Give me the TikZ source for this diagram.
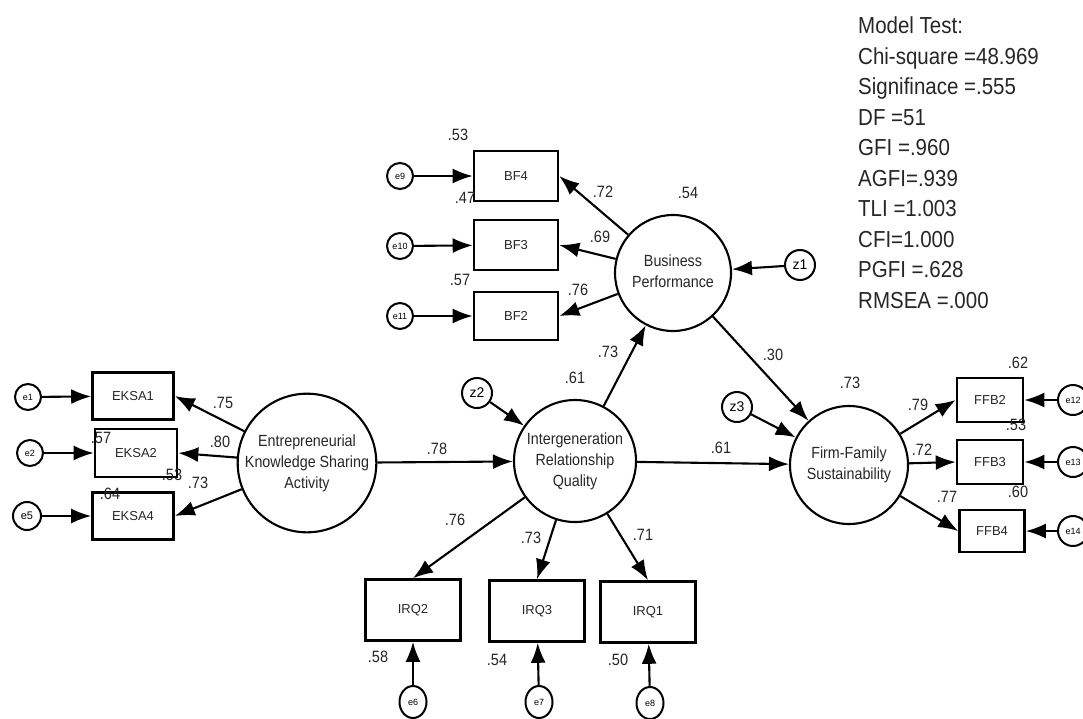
\documentclass[tikz,border=0pt]{standalone}
\usepackage{fontspec}
\setmainfont{Liberation Sans}
\usetikzlibrary{arrows.meta,shapes.geometric}
\newcommand{\vst}[1]{\scalebox{1}[1.13]{#1}}
\newcommand{\ctext}[1]{\vst{\begin{tabular}{@{}c@{}}#1\end{tabular}}}
\tikzset{
  lat/.style={draw, circle, line width=2.1pt, minimum size=#1, inner sep=0pt,
    font=\fontsize{14.3}{18.6}\selectfont, text=black!85},
  obs/.style={draw, rectangle, line width=2.6pt, inner sep=0pt,
    font=\fontsize{13}{15}\selectfont, text=black!85},
  err/.style={draw, circle, line width=2pt, minimum size=#1, inner sep=0pt,
    font=\fontsize{9}{10}\selectfont},
  errv/.style={draw, ellipse, line width=2pt, minimum width=27pt, minimum height=32pt,
    inner sep=0pt, font=\fontsize{9}{10}\selectfont},
  dist/.style={draw, circle, line width=2pt, minimum size=30pt, inner sep=0pt,
    font=\fontsize{14}{15}\selectfont},
  num/.style={font=\fontsize{14.5}{16}\selectfont, inner sep=0pt, text=black!85},
  arr/.style={line width=2.1pt, -{Latex[length=20pt,width=15pt]}},
}
\begin{document}
\begin{tikzpicture}[x=1pt,y=-1pt]
\useasboundingbox (0,0) rectangle (1083,718);
% latent variables
\node[lat=130pt] (eksa) at (307,463) {\ctext{Entrepreneurial\\Knowledge Sharing\\Activity}};
\node[lat=122pt] (irq) at (575,461) {\ctext{Intergeneration\\Relationship\\Quality}};
\node[lat=116pt] (bf) at (673,273) {\ctext{Business\\Performance}};
\node[lat=118pt] (ffs) at (849,465) {\ctext{Firm-Family\\Sustainability}};
% observed
\node[obs, minimum width=81pt, minimum height=47pt] (eksa1) at (133,396) {EKSA1};
\node[obs, minimum width=82pt, minimum height=48pt] (eksa2) at (136,453) {EKSA2};
\node[obs, minimum width=81pt, minimum height=47pt] (eksa4) at (133,516) {EKSA4};
\node[obs, minimum width=84pt, minimum height=50pt] (bf4) at (516,176) {BF4};
\node[obs, minimum width=84pt, minimum height=50pt] (bf3) at (516,245) {BF3};
\node[obs, minimum width=84pt, minimum height=48pt] (bf2) at (516,316) {BF2};
\node[obs, minimum width=66pt, minimum height=44pt] (ffb2) at (990,400) {FFB2};
\node[obs, minimum width=66pt, minimum height=44pt] (ffb3) at (990,462) {FFB3};
\node[obs, minimum width=65pt, minimum height=42pt] (ffb4) at (992,531) {FFB4};
\node[obs, minimum width=95pt, minimum height=61pt] (irq2) at (413,610) {IRQ2};
\node[obs, minimum width=95pt, minimum height=61pt] (irq3) at (537,611) {IRQ3};
\node[obs, minimum width=95pt, minimum height=61pt] (irq1) at (648,612) {IRQ1};
% errors
\node[err=26pt] (e1) at (28,397) {e1};
\node[err=26pt] (e2) at (30,453) {e2};
\node[err=28pt, font=\fontsize{11}{12}\selectfont] (e5) at (27,516) {e5};
\node[err=26pt] (e9) at (400,176) {e9};
\node[err=26pt] (e10) at (400,246) {e10};
\node[err=26pt] (e11) at (400,316) {e11};
\node[err=30pt] (e12) at (1073,400) {e12};
\node[err=30pt] (e13) at (1073,462) {e13};
\node[err=30pt] (e14) at (1073,531) {e14};
\node[errv] (e6) at (413,702) {e6};
\node[errv] (e7) at (539,702) {e7};
\node[errv] (e8) at (650,703) {e8};
\node[dist] (z1) at (800,265) {z1};
\node[dist] (z2) at (477,393) {z2};
\node[dist] (z3) at (737,407) {z3};
% error arrows
\draw[arr] (e1) -- (eksa1);
\draw[arr] (e2) -- (eksa2);
\draw[arr] (e5) -- (eksa4);
\draw[arr] (e9) -- (bf4);
\draw[arr] (e10) -- (bf3);
\draw[arr] (e11) -- (bf2);
\draw[arr] (e12) -- (ffb2);
\draw[arr] (e13) -- (ffb3);
\draw[arr] (e14) -- (ffb4);
\draw[arr] (e6) -- (irq2);
\draw[arr] (e7) -- (irq3);
\draw[arr] (e8) -- (irq1);
\draw[arr] (z1) -- (bf);
\draw[arr] (z2) -- (irq);
\draw[arr] (z3) -- (ffs);
% loadings
\draw[arr] (eksa) -- (eksa1.east);
\draw[arr] (eksa) -- (eksa2.east);
\draw[arr] (eksa) -- (eksa4.east);
\draw[arr] (bf) -- (bf4.east);
\draw[arr] (bf) -- (bf3.east);
\draw[arr] (bf) -- (bf2.east);
\draw[arr] (ffs) -- (ffb2.west);
\draw[arr] (ffs) -- (ffb3.west);
\draw[arr] (ffs) -- (ffb4.west);
\draw[arr] (irq) -- (irq2.north);
\draw[arr] (irq) -- (irq3.north);
\draw[arr] (irq) -- (irq1.north);
% structural
\draw[arr] (eksa) -- (irq);
\draw[arr] (irq) -- (bf);
\draw[arr] (irq) -- (ffs);
\draw[arr] (bf) -- (ffs);
% numbers
\node[num] (n1) at (223,403) {\vst{.75}};
\node[num] (n2) at (220,442) {\vst{.80}};
\node[num] (n3) at (198,483) {\vst{.73}};
\node[num] (n4) at (101,438) {\vst{.57}};
\node[num] (n5) at (172,475) {\vst{.53}};
\node[num] (n6) at (110,494) {\vst{.64}};
\node[num] (n7) at (437,449) {\vst{.78}};
\node[num] (n8) at (575,378) {\vst{.61}};
\node[num] (n9) at (608,352) {\vst{.73}};
\node[num] (n10) at (721,448) {\vst{.61}};
\node[num] (n11) at (773,355) {\vst{.30}};
\node[num] (n12) at (850,383) {\vst{.73}};
\node[num] (n13) at (688,193) {\vst{.54}};
\node[num] (n14) at (458,135) {\vst{.53}};
\node[num] (n15) at (465,198) {\vst{.47}};
\node[num] (n16) at (460,280) {\vst{.57}};
\node[num] (n17) at (603,192) {\vst{.72}};
\node[num] (n18) at (600,237) {\vst{.69}};
\node[num] (n19) at (578,290) {\vst{.76}};
\node[num] (n20) at (1018,363) {\vst{.62}};
\node[num] (n21) at (1016,425) {\vst{.53}};
\node[num] (n22) at (1018,492) {\vst{.60}};
\node[num] (n23) at (918,405) {\vst{.79}};
\node[num] (n24) at (922,450) {\vst{.72}};
\node[num] (n25) at (947,497) {\vst{.77}};
\node[num] (n26) at (455,520) {\vst{.76}};
\node[num] (n27) at (531,538) {\vst{.73}};
\node[num] (n28) at (643,535) {\vst{.71}};
\node[num] (n29) at (378,657) {\vst{.58}};
\node[num] (n30) at (497,660) {\vst{.54}};
\node[num] (n31) at (618,660) {\vst{.50}};
% model test
\node[anchor=north west, inner sep=0pt, font=\fontsize{20.5}{27}\selectfont, text=black!85] (mt) at (858,12)
 {\vst{\begin{tabular}{@{}l@{}}Model Test:\\Chi-square =48.969\\Signifinace =.555\\DF =51\\GFI =.960\\AGFI=.939\\TLI =1.003\\CFI=1.000\\PGFI =.628\\RMSEA =.000\end{tabular}}};
\end{tikzpicture}
\end{document}
